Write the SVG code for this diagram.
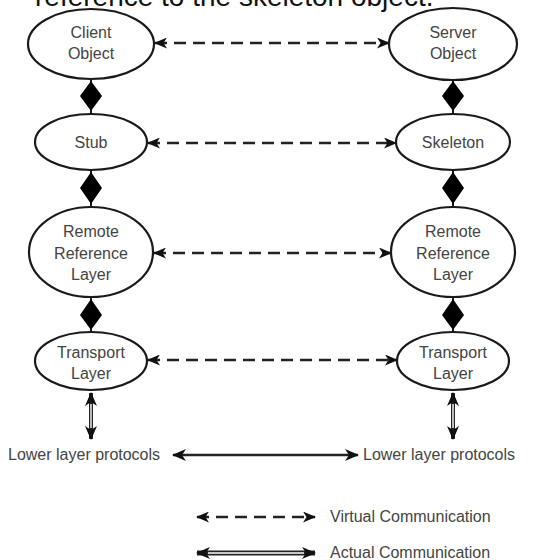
<svg xmlns="http://www.w3.org/2000/svg" width="536" height="560" viewBox="0 0 536 560">
<style>
  .node ellipse { fill: #fff; stroke: #1a1a1a; stroke-width: 2.2; }
  .lbl { font-family: "Liberation Sans", Arial, sans-serif; font-size: 16px; fill: #444; text-anchor: middle; }
  .side { font-family: "Liberation Sans", Arial, sans-serif; font-size: 16px; fill: #444; }
  .top { font-family: "Liberation Sans", Arial, sans-serif; font-size: 28px; fill: #111; }
  .dash { stroke: #222; stroke-width: 2.6; stroke-dasharray: 12 7; fill: none; marker-start: url(#dh); marker-end: url(#dh); }
  .solid { stroke: #222; fill: none; marker-start: url(#sh); marker-end: url(#sh); }
  .inner { stroke: #fff; fill: none; }
  .link { stroke: #1a1a1a; stroke-width: 2; }
  .dia { fill: #000; }
</style>
<defs>
  <marker id="dh" viewBox="0 0 13 11" refX="12" refY="5.5" markerWidth="13" markerHeight="11" markerUnits="userSpaceOnUse" orient="auto-start-reverse">
    <path d="M0,0 L13,5.5 L0,11 L3.5,5.5 Z" fill="#111"/>
  </marker>
  <marker id="sh" viewBox="0 0 14 12" refX="13" refY="6" markerWidth="14" markerHeight="12" markerUnits="userSpaceOnUse" orient="auto-start-reverse">
    <path d="M0,0 L14,6 L0,12 L4,6 Z" fill="#111"/>
  </marker>
</defs>

<text class="top" x="35" y="6">reference to the skeleton object.</text>

<g id="connectors">
  <!-- vertical links and diamonds, left -->
  <line class="link" x1="91" y1="79" x2="91" y2="114"/>
  <polygon class="dia" points="91,81 102,96 91,111 80,96"/>
  <line class="link" x1="91" y1="170" x2="91" y2="207"/>
  <polygon class="dia" points="91,172 102,188 91,204 80,188"/>
  <line class="link" x1="91" y1="297" x2="91" y2="332"/>
  <polygon class="dia" points="91,299 102,315 91,330 80,315"/>
  <!-- vertical links and diamonds, right -->
  <line class="link" x1="453" y1="80" x2="453" y2="114"/>
  <polygon class="dia" points="453,81 464,96 453,111 442,96"/>
  <line class="link" x1="453" y1="170" x2="453" y2="207"/>
  <polygon class="dia" points="453,172 464,188 453,204 442,188"/>
  <line class="link" x1="453" y1="297" x2="453" y2="332"/>
  <polygon class="dia" points="453,299 464,315 453,330 442,315"/>

  <!-- virtual communication -->
  <line class="dash" x1="155" y1="43" x2="389" y2="43"/>
  <line class="dash" x1="148" y1="143" x2="396" y2="143"/>
  <line class="dash" x1="154" y1="253" x2="391" y2="253"/>
  <line class="dash" x1="148" y1="360" x2="397" y2="360"/>

  <!-- transport to lower layers -->
  <line class="solid" stroke-width="4" x1="91" y1="393" x2="91" y2="439"/>
  <line class="inner" stroke-width="1.4" x1="91" y1="404" x2="91" y2="428"/>
  <line class="solid" stroke-width="4" x1="453" y1="393" x2="453" y2="439"/>
  <line class="inner" stroke-width="1.4" x1="453" y1="404" x2="453" y2="428"/>

  <!-- lower layer actual communication -->
  <line class="solid" stroke-width="2.6" x1="173" y1="455" x2="358" y2="455"/>

  <!-- legend -->
  <line class="dash" x1="197" y1="517" x2="315" y2="517"/>
  <line class="solid" stroke-width="5" x1="197" y1="553" x2="315" y2="553"/>
  <line class="inner" stroke-width="1.6" x1="208" y1="553" x2="304" y2="553"/>
</g>

<g id="client" class="node">
  <ellipse cx="91" cy="44" rx="63" ry="35"/>
  <text class="lbl" x="91" y="38">Client</text>
  <text class="lbl" x="91" y="59">Object</text>
</g>
<g id="server" class="node">
  <ellipse cx="453" cy="44" rx="64" ry="36"/>
  <text class="lbl" x="453" y="38">Server</text>
  <text class="lbl" x="453" y="59">Object</text>
</g>
<g id="stub" class="node">
  <ellipse cx="91" cy="142" rx="56" ry="28"/>
  <text class="lbl" x="91" y="148">Stub</text>
</g>
<g id="skeleton" class="node">
  <ellipse cx="453" cy="142" rx="57" ry="28"/>
  <text class="lbl" x="453" y="148">Skeleton</text>
</g>
<g id="rrl-client" class="node">
  <ellipse cx="91" cy="252" rx="62" ry="45"/>
  <text class="lbl" x="91" y="237">Remote</text>
  <text class="lbl" x="91" y="259">Reference</text>
  <text class="lbl" x="91" y="280">Layer</text>
</g>
<g id="rrl-server" class="node">
  <ellipse cx="453" cy="252" rx="62" ry="45"/>
  <text class="lbl" x="453" y="237">Remote</text>
  <text class="lbl" x="453" y="259">Reference</text>
  <text class="lbl" x="453" y="280">Layer</text>
</g>
<g id="transport-client" class="node">
  <ellipse cx="91" cy="361" rx="56" ry="29"/>
  <text class="lbl" x="91" y="358">Transport</text>
  <text class="lbl" x="91" y="379">Layer</text>
</g>
<g id="transport-server" class="node">
  <ellipse cx="453" cy="361" rx="56" ry="29"/>
  <text class="lbl" x="453" y="358">Transport</text>
  <text class="lbl" x="453" y="379">Layer</text>
</g>

<g id="lower-left">
  <text class="side" x="8" y="460">Lower layer protocols</text>
</g>
<g id="lower-right">
  <text class="side" x="363" y="460">Lower layer protocols</text>
</g>
<g id="legend">
  <text class="side" x="330" y="522">Virtual Communication</text>
  <text class="side" x="330" y="558">Actual Communication</text>
</g>
</svg>
